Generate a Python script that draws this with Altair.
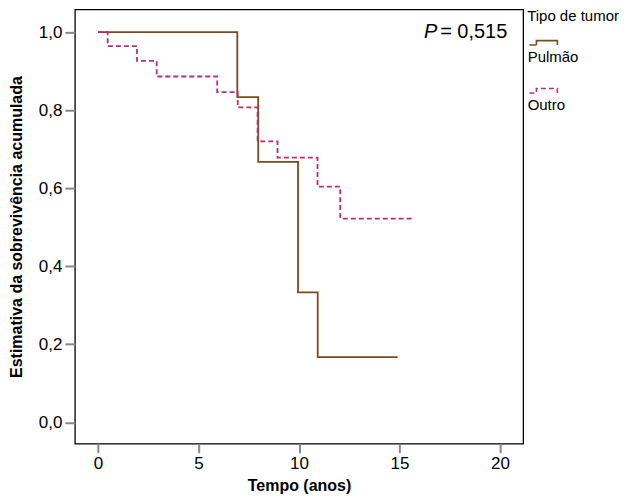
import altair as alt
import pandas as pd

groups = ["Pulmão", "Outro"]
pulmao_t = [0, 6.93, 7.97, 9.95, 10.93, 14.91]
pulmao_s = [1.0, 0.833, 0.667, 0.333, 0.167, 0.167]
outro_t = [0, 0.48, 1.94, 2.92, 5.93, 6.95, 7.94, 8.93, 10.92, 12.05, 15.73]
outro_s = [1.0, 0.964, 0.926, 0.886, 0.846, 0.807, 0.72, 0.678, 0.604, 0.522, 0.522]
x_ticks = [0, 5, 10, 15, 20]
y_ticks = [0, 0.2, 0.4, 0.6, 0.8, 1.0]
p_value_text = "= 0,515"

rows = []
for t, s in zip(pulmao_t, pulmao_s):
    rows.append({"tempo": t, "surv": s, "grupo": groups[0]})
for t, s in zip(outro_t, outro_s):
    rows.append({"tempo": t, "surv": s, "grupo": groups[1]})
df = pd.DataFrame(rows)

font = "Liberation Sans"
colors = ["#7a4a1e", "#b8306e"]

x_enc = alt.X("tempo:Q",
              scale=alt.Scale(domain=[-1.15, 21.15], nice=False, zero=False),
              axis=alt.Axis(values=x_ticks, title="Tempo (anos)", grid=False, domain=False,
                            tickColor="#888888", tickWidth=2, tickSize=9, labelPadding=3,
                            labelFontSize=17, labelColor="black", labelFont=font,
                            titleFont=font, titleFontSize=16, titleFontWeight="bold",
                            titleColor="black", titlePadding=6, format="d"))
y_enc = alt.Y("surv:Q",
              scale=alt.Scale(domain=[-0.055, 1.058], nice=False, zero=False),
              axis=alt.Axis(values=y_ticks, title="Estimativa da sobrevivência acumulada",
                            grid=False, domain=False,
                            tickColor="#888888", tickWidth=2, tickSize=10, labelPadding=3,
                            labelFontSize=17, labelColor="black", labelFont=font,
                            labelExpr="replace(format(datum.value, '.1f'), '.', ',')",
                            titleFont=font, titleFontSize=16, titleFontWeight="bold",
                            titleColor="black", titlePadding=14))

sym_path = "M-0.82,-0.76L0.18,-0.76L0.18,-1.39L3.18,-1.39L3.18,-0.76"
legend = alt.Legend(title="Tipo de tumor", titleFont=font, titleFontSize=15,
                    titleFontWeight="normal", titleColor="black", titlePadding=18,
                    labelFont=font, labelFontSize=15, labelColor="black",
                    labelBaseline="top", labelOffset={"expr": "-15.5"},
                    symbolType=sym_path, symbolSize=196, symbolStrokeWidth=1.6,
                    symbolFillColor="transparent", symbolOffset=0,
                    rowPadding=20, offset=4, padding=0)

lines = alt.Chart(df).mark_line(interpolate="step-after", strokeWidth=1.8).encode(
    x=x_enc,
    y=y_enc,
    color=alt.Color("grupo:N", scale=alt.Scale(domain=groups, range=colors), legend=legend),
    strokeDash=alt.StrokeDash("grupo:N", scale=alt.Scale(domain=groups, range=[[1, 0], [5, 3]]),
                              legend=legend),
)

p_df = pd.DataFrame({"tempo": [20.36], "surv": [1.0], "txt": [p_value_text]})
p_rest = alt.Chart(p_df).mark_text(align="right", baseline="middle", fontSize=20, font=font,
                                   color="black").encode(
    x="tempo:Q", y="surv:Q", text="txt:N")
p_italic = alt.Chart(p_df).mark_text(align="right", baseline="middle", fontSize=20, font=font,
                                     fontStyle="italic", color="black", dx=-70).encode(
    x="tempo:Q", y="surv:Q", text=alt.value("P"))

chart = alt.layer(lines, p_rest, p_italic).properties(
    width=449, height=435,
    background="white",
    padding={"left": 0, "top": 1, "right": 0, "bottom": 0},
).configure_view(stroke="black", strokeWidth=1.3)

chart.save("out.html", embed_options={"renderer": "svg", "actions": False})
